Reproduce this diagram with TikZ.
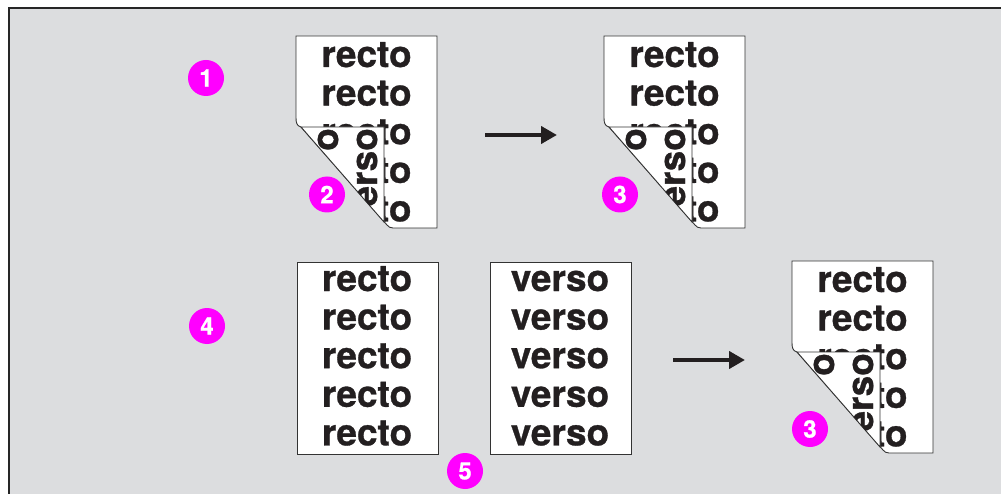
\documentclass[tikz,border=0pt]{standalone}
\usepackage{fontspec}
\setmainfont{TeX Gyre Heros}[BoldFeatures={FakeBold=0.8}]
\usetikzlibrary{arrows.meta}
\usepackage{xcolor}

\definecolor{panelgray}{HTML}{DCDDDF}
\definecolor{inkblack}{HTML}{231F20}
\definecolor{markpink}{HTML}{FF00FF}
\definecolor{edgegray}{HTML}{333333}

% outline of a sheet whose lower left corner is folded over
\newcommand\sheetoutline{(0,0) -- (141,0) -- (141,192) -- (97,192)
    .. controls (94,192) and (93,191) .. (91,189) -- (5,91)
    .. controls (1,90) and (0,87) .. (0,82) -- cycle}
\newcommand\flapoutline{(5,91) -- (88,91) -- (88,186) -- cycle}

% folded sheet, #1 = left, #2 = top
\newcommand\curledsheet[2]{%
\begin{scope}[shift={(#1,#2)}]
  \draw[sheet] \sheetoutline;
  \begin{scope}
    \clip \sheetoutline;
    \foreach \i in {0,1,2} \node[word] at (70.5,31+38.6*\i) {recto};
    \foreach \i in {3,4} \node[word, anchor=base east] at (115.7,31+38.6*\i) {to};
  \end{scope}
  \draw[sheet] \flapoutline;
  \begin{scope}
    \clip \flapoutline;
    \node[word, rotate=90, anchor=base east] at (42,92) {o};
    \node[word, rotate=90, anchor=base east] at (81,92) {erso};
  \end{scope}
\end{scope}}

\begin{document}
\begin{tikzpicture}[x=1pt, y=-1pt,
  frame/.style={draw=black!85, line width=1.6pt, fill=panelgray},
  sheet/.style={draw=edgegray, line width=0.9pt, fill=white},
  word/.style={font=\fontsize{37}{37}\selectfont\bfseries, text=inkblack, inner sep=0pt, anchor=base},
  marker/.style={circle, fill=markpink, minimum size=36pt, inner sep=0pt, text=white, font=\fontsize{24}{24}\selectfont\bfseries},
  flow/.style={-{Triangle[length=16pt, width=17pt]}, line width=4.5pt, draw=inkblack}
]
\useasboundingbox (0,0) rectangle (1001,494);
\clip (0,0) rectangle (1001,494);
\draw[frame] (9,8) rectangle (1030,520);

% top row
\curledsheet{296}{36}
\curledsheet{604}{36}
\coordinate (a1) at (485,135);
\coordinate (b1) at (557,135);
\draw[flow] (a1) -- (b1);

% bottom row
\node[sheet, anchor=north west, minimum width=141pt, minimum height=192pt] (p4) at (297,262) {};
\foreach \i in {0,...,4} \node[word] at (367,291+38.6*\i) {recto};
\node[sheet, anchor=north west, minimum width=141pt, minimum height=192pt] (p5) at (490,262) {};
\foreach \i in {0,...,4} \node[word] at (560,291+38.6*\i) {verso};
\curledsheet{792}{261}
\coordinate (a2) at (673,360);
\coordinate (b2) at (745,360);
\draw[flow] (a2) -- (b2);

% step markers
\node[marker] (m1) at (206,78) {1};
\node[marker] (m2) at (327,194.5) {2};
\node[marker] (m3) at (620,194.5) {3};
\node[marker] (m4) at (207,326) {4};
\node[marker] (m5) at (465,471) {5};
\node[marker] (m6) at (810,429) {3};
\end{tikzpicture}
\end{document}
